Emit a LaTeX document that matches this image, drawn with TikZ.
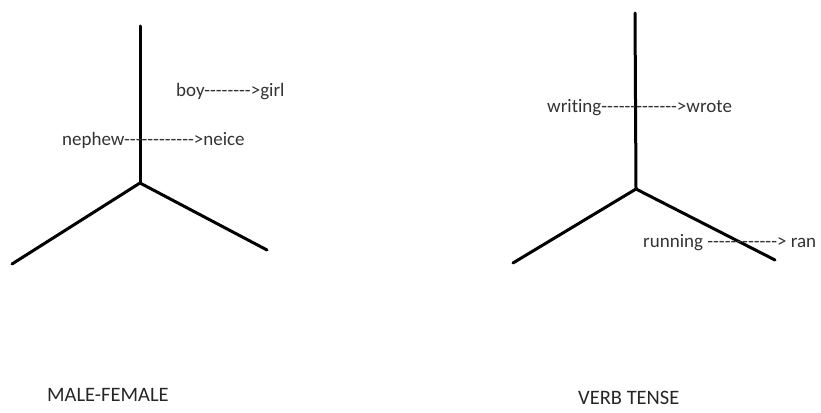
\documentclass[tikz,border=0pt]{standalone}
\usepackage{fontspec}
\setmainfont{Carlito}[Ligatures={TeXOff,CommonOff}]

\begin{document}
\begin{tikzpicture}[
  x=1pt,y=-1pt,
  arm/.style={line width=3pt,line cap=round,line join=miter},
  word/.style={anchor=west,inner sep=0pt,text=black!80,
    font=\fontsize{19}{22}\selectfont},
  title/.style={anchor=west,inner sep=0pt,text=black!85,
    font=\fontsize{20.5}{24}\selectfont}
]
  \useasboundingbox (0,0) rectangle (821,412);

  % male-female tree
  \coordinate (mf-top)   at (140,26);
  \coordinate (mf-hub)   at (140,183);
  \coordinate (mf-left)  at (12,264);
  \coordinate (mf-right) at (267,250);
  \draw[arm] (mf-top) -- (mf-hub);
  \draw[arm] (mf-left) -- (mf-hub) -- (mf-right);

  \node[word] (boy)    at (176,92)  {boy-------->girl};
  \node[word] (nephew) at (62,140)  {nephew------------>neice};
  \node[title] (mf-title) at (47,395) {MALE-FEMALE};

  % verb tense tree
  \coordinate (vt-top)   at (635,13);
  \coordinate (vt-hub)   at (636,189);
  \coordinate (vt-left)  at (513,263);
  \coordinate (vt-right) at (775,260);
  \draw[arm] (vt-top) -- (vt-hub);
  \draw[arm] (vt-left) -- (vt-hub) -- (vt-right);

  \node[word] (writing) at (547,108) {writing------------->wrote};
  \node[word] (running) at (643,243) {running ------------> ran};
  \node[title] (vt-title) at (578,398) {VERB TENSE};
\end{tikzpicture}
\end{document}
